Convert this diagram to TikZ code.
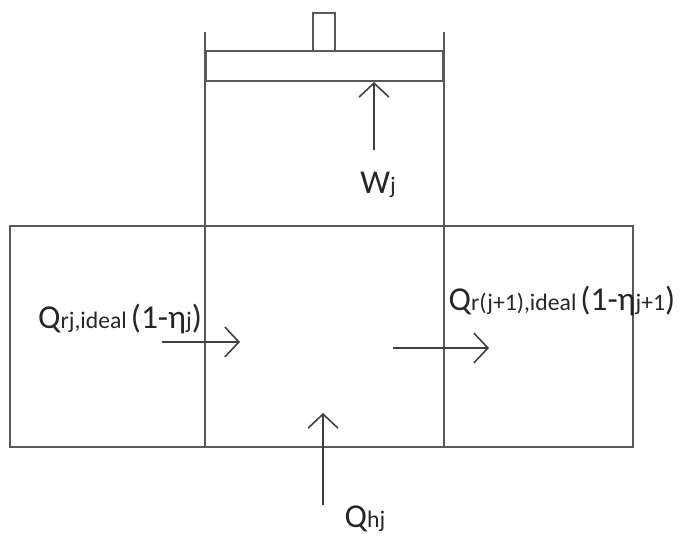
\documentclass[tikz,border=0pt]{standalone}
\usepackage{fontspec}
\setmainfont{Carlito}
\usetikzlibrary{arrows.meta}
\newcommand{\bigtx}[1]{{\fontsize{19}{19}\selectfont #1}}
\newcommand{\subtx}[1]{{\fontsize{13.5}{13.5}\selectfont #1}}
\tikzset{
  wall/.style={draw=black!65, line width=1.1pt},
  flow/.style={draw=black!75, line width=0.9pt, -{Straight Barb[length=8pt,width=17pt,line width=0.9pt]}},
  lbl/.style={inner sep=0pt, text=black!85}
}
\begin{document}
\begin{tikzpicture}[x=0.02cm,y=-0.02cm]
\useasboundingbox (0,0) rectangle (681,537);
% boxes
\draw[wall] (10,226) rectangle (633,447);
\draw[wall] (205,32)--(205,447);
\draw[wall] (444,32)--(444,447);
\draw[wall] (206,51) rectangle (443,81);
\draw[wall] (313,13) rectangle (335,51);
% arrow ends
\coordinate (wa) at (374,150);
\coordinate (wb) at (374,82);
\coordinate (la) at (162,342);
\coordinate (lb) at (240,342);
\coordinate (ra) at (393,348);
\coordinate (rb) at (489,348);
\coordinate (ha) at (323,505);
\coordinate (hb) at (323,413);
\draw[flow] (wa)--(wb);
\draw[flow] (la)--(lb);
\draw[flow] (ra)--(rb);
\draw[flow] (ha)--(hb);
% labels
\node[lbl] (wj) at (378,185) {\bigtx{W}\subtx{j}};
\node[lbl] (qrj) at (120,319) {\bigtx{Q}\subtx{rj,ideal} \bigtx{(1-η}\subtx{j}\bigtx{)}};
\node[lbl] (qrj1) at (562,301) {\bigtx{Q}\subtx{r(j+1),ideal} \bigtx{(1-η}\subtx{j+1}\bigtx{)}};
\node[lbl] (qhj) at (365,519) {\bigtx{Q}\subtx{hj}};
\end{tikzpicture}
\end{document}
